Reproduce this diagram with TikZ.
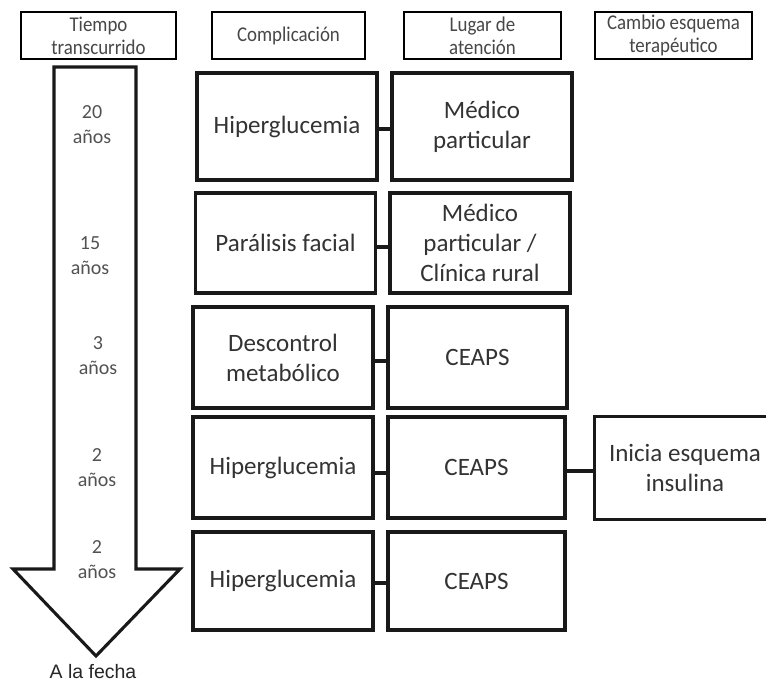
\documentclass[tikz,border=0pt]{standalone}
\usepackage{fontspec}
\setmainfont{Carlito}
\newfontfamily\arialfont{Liberation Sans}
\newfontfamily\headfont[FakeStretch=0.9]{Carlito}
\begin{document}
\begin{tikzpicture}[x=1pt,y=-1pt,
  hdr/.style={draw=black, line width=2.7pt, minimum height=47pt, inner sep=0pt,
    align=center, text=black!72, font=\headfont\fontsize{21}{23}\selectfont},
  cell/.style={draw=black!90, line width=3.1pt, minimum width=180pt, inner sep=0pt,
    align=center, text=black!80, font=\fontsize{25}{30}\selectfont},
  yrs/.style={align=center, text=black!68, inner sep=0pt, font=\fontsize{20}{25}\selectfont},
  link/.style={line width=4pt, draw=black!90},
  timearrow/.style={draw=black!90, line width=3.1pt, fill=white}]
\useasboundingbox (0,0) rectangle (766,683);
\clip (0,0) rectangle (766,683);
\fill[white] (0,0) rectangle (766,683);

% column headings
\node[hdr, minimum width=155pt] (h1) at (98.5,35.5) {Tiempo\\transcurrido};
\node[hdr, minimum width=153pt] (h2) at (288.5,35.5) {Complicación};
\node[hdr, minimum width=157pt] (h3) at (482.5,35.5) {Lugar de\\atención};
\node[hdr, minimum width=157pt] (h4) at (673.5,35.5) {Cambio esquema\\terapéutico};

% time arrow
\draw[timearrow] (54,67) -- (136,67) -- (136,569) -- (180,569) -- (96,656)
  -- (13,569) -- (54,569) -- cycle;
\node[yrs] (t1) at (92,124.5) {20\\años};
\node[yrs] (t2) at (90,256) {15\\años};
\node[yrs] (t3) at (98,355.5) {3\\años};
\node[yrs] (t4) at (97,467.5) {2\\años};
\node[yrs] (t5) at (97,559.5) {2\\años};
\node[inner sep=0pt, text=black!85, font=\arialfont\fontsize{19.5}{23}\selectfont] (fecha) at (93,672) {A la fecha};

% complications
\node[cell, minimum height=107pt] (a1) at (287,126.5) {Hiperglucemia};
\node[cell, minimum height=100pt] (a2) at (285.5,243) {Parálisis facial};
\node[cell, minimum height=101pt] (a3) at (283,357.5) {Descontrol\\metabólico};
\node[cell, minimum height=101pt] (a4) at (283,467.5) {Hiperglucemia};
\node[cell, minimum height=98pt] (a5) at (283,581) {Hiperglucemia};

% place of care
\node[cell, minimum height=107pt] (b1) at (482,126.5) {Médico\\particular};
\node[cell, minimum height=100pt] (b2) at (480,243) {Médico\\particular /\\Clínica rural};
\node[cell, minimum height=101pt, minimum width=179pt] (b3) at (477.5,357.5) {CEAPS};
\node[cell, minimum height=101pt, minimum width=177pt] (b4) at (476.5,467.5) {CEAPS};
\node[cell, minimum height=98pt, minimum width=177pt] (b5) at (476.5,581) {CEAPS};

% change of treatment (box runs off the right edge)
\node[cell, draw=none, minimum height=100pt, minimum width=178pt] (c4) at (685,468) {Inicia esquema\\insulina};
\draw[draw=black!90, line width=3.1pt] (c4.north east) -- (c4.north west)
  -- (c4.south west) -- (c4.south east);

% connectors
\draw[link] ([yshift=-2.5pt]a1.east) -- ([yshift=-2.5pt]b1.west);
\draw[link] ([yshift=-4pt]a2.east) -- ([yshift=-4pt]b2.west);
\draw[link] ([yshift=-3.5pt]a3.east) -- ([yshift=-3.5pt]b3.west);
\draw[link] ([yshift=-5.5pt]a4.east) -- ([yshift=-5.5pt]b4.west);
\draw[link] ([yshift=-2pt]a5.east) -- ([yshift=-2pt]b5.west);
\coordinate (b4out) at ([yshift=-3.5pt]b4.east);
\draw[link] (b4out) -- (c4.west |- b4out);
\end{tikzpicture}
\end{document}
